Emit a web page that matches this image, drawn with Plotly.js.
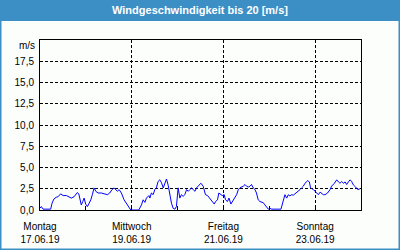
<!DOCTYPE html>
<html>
<head>
<meta charset="utf-8">
<script src="https://cdn.plot.ly/plotly-3.0.1.min.js"></script>
<style>html,body{margin:0;padding:0;background:#fcfefc;}#chart{width:400px;height:250px;}</style>
</head>
<body>
<div id="chart"></div>
<script>
// hours since 17.06.19 00:00
const hours = [0,0.7,1.6,5.6,6.3,7.3,8.5,9.4,10.8,12.1,13.8,15.6,16.4,17.8,18.7,19.5,20.3,21.0,21.6,22.4,23.1,23.9,24.8,25.5,26.6,27.4,28.3,29.2,30.4,32.1,33.9,35.3,36.5,37.7,38.8,39.7,40.5,41.4,42.6,44.0,45.7,47.5,51.7,53.1,54.0,54.9,55.7,57.0,57.5,58.3,59.2,60.1,60.9,61.8,62.7,63.6,64.5,65.4,66.2,67.1,68.0,68.8,69.7,70.6,71.4,71.9,72.3,73.2,74.0,74.9,75.8,76.7,77.6,78.4,79.3,80.2,81.1,81.9,82.8,84.2,85.4,86.6,87.7,88.9,90.1,91.2,91.9,92.9,93.6,94.7,95.4,96.4,97.1,98.1,98.9,99.9,101.1,102.0,102.9,103.8,104.6,106.4,107.3,108.1,109.0,109.9,110.7,111.6,112.5,113.3,114.2,115.1,116.0,116.9,117.7,118.6,119.5,120.4,121.2,126.1,127.3,128.2,129.1,130.0,130.8,131.7,132.6,133.5,134.3,135.2,136.1,136.9,137.8,138.7,140.1,141.0,141.6,143.1,143.9,144.8,145.7,146.6,147.4,148.3,149.2,150.5,151.8,152.6,154.1,155.3,156.2,157.0,157.9,158.8,159.7,160.5,161.4,162.3,163.1,164.0,165.2,166.3,167.5];
const speed = [0.23,0.4,0.1,0.1,0.8,1.3,1.5,1.55,1.9,1.7,1.7,1.5,1.4,1.55,1.9,2.05,1.9,1.2,0.6,1.0,1.4,0.7,0.4,0.7,1.2,1.8,2.6,2.2,2.0,2.0,1.9,1.8,2.0,2.4,2.6,2.4,2.2,2.4,2.0,1.2,0.6,0,0,0.6,1.2,0.9,1.4,1.7,1.4,2.0,1.8,2.4,2.6,3.35,3.55,3.2,2.6,3.15,3.65,2.9,1.8,0.8,0.2,0.1,0.4,1.4,2.6,1.4,1.8,1.6,1.8,2.4,2.2,2.4,2.6,2.4,2.2,2.6,2.8,3.15,2.8,1.8,1.7,1.4,1.0,0.7,1.0,1.2,2.0,1.8,1.7,1.8,1.2,1.0,1.4,0.7,1.1,1.4,1.8,2.4,2.6,2.8,3.0,2.8,2.7,2.8,3.0,2.6,2.4,2.0,1.2,1.0,0.95,0.85,0.6,0.4,0.1,0.2,0.1,0.1,1.2,1.8,1.4,1.8,1.65,1.8,1.75,1.9,2.0,2.2,2.4,2.6,2.8,3.15,3.45,3.3,2.6,2.4,2.2,2.0,1.8,2.1,2.0,1.8,1.8,2.0,2.4,2.8,3.15,3.55,3.3,3.15,3.35,3.15,3.3,3.0,3.3,3.55,3.35,2.95,2.7,2.4,2.5];

const tickDates = ['2019-06-17','2019-06-19','2019-06-21','2019-06-23'];
const tickDays = ['Montag','Mittwoch','Freitag','Sonntag'];
const tickDateLabels = ['17.06.19','19.06.19','21.06.19','23.06.19'];
const yTicks = [0,2.5,5,7.5,10,12.5,15,17.5];
const yTickLabels = ['0,0','2,5','5,0','7,5','10,0','12,5','15,0','17,5'];
const titleText = 'Windgeschwindigkeit bis 20 [m/s]';
const unitText = 'm/s';

const start = Date.UTC(2019,5,17);
function toTime(h){
  return new Date(start + h*3600000).toISOString().replace('T',' ').slice(0,19);
}
const xs = hours.map(toTime);

const W=400,H=250,ML=40,MR=39,MT=40,MB=40;
const PW=W-ML-MR, PH=H-MT-MB;
const px = x => (x-ML)/PW;
const py = y => (H-MB-y)/PH;
const blue = '#3c8fc5';
const font = 'Liberation Sans, Arial, sans-serif';

const trace = {x: xs, y: speed, type:'scatter', mode:'lines',
  line:{color:'#0000ff', width:1}, hoverinfo:'skip'};

const layout = {
  width:W, height:H,
  margin:{l:ML, r:MR, t:MT, b:MB, pad:0},
  paper_bgcolor:'#fcfefc', plot_bgcolor:'#fcfefc',
  showlegend:false,
  font:{family:font, size:10, color:'#000'},
  title:{text:'<b>'+titleText+'</b>', x:0.5, xanchor:'center', xref:'container',
    y:1-10/H, yanchor:'middle', yref:'container', font:{family:font, size:11, color:'#ffffff'}},
  xaxis:{type:'date', range:['2019-06-17 00:00','2019-06-24 00:00'],
    tickvals:tickDates, ticktext:tickDays.map((d,i)=>d+'<br>'+tickDateLabels[i]),
    showgrid:true, gridcolor:'#000', griddash:'3px,2px', gridwidth:1,
    showline:true, linecolor:'#000', linewidth:1, mirror:true,
    ticks:'inside', ticklen:4, tickcolor:'#000',
    tickfont:{family:font, size:10, color:'#000'},
    ticklabelstandoff:7,
    minor:{dtick:86400000, ticks:'inside', ticklen:4, tickcolor:'#000', showgrid:false},
    zeroline:false, fixedrange:true},
  yaxis:{range:[0,20], tickvals:yTicks, ticktext:yTickLabels,
    showgrid:true, gridcolor:'#000', griddash:'3px,2px', gridwidth:1,
    showline:true, linecolor:'#000', linewidth:1, mirror:true,
    ticks:'', tickfont:{family:font, size:10, color:'#000'},
    ticklabelstandoff:3, zeroline:false, fixedrange:true},
  shapes:[
    {type:'rect', xref:'paper', yref:'paper', x0:px(-2), x1:px(402), y0:py(21), y1:py(-2),
      fillcolor:blue, line:{width:0}, layer:'below'},
    {type:'rect', xref:'paper', yref:'paper', x0:px(0.75), x1:px(399.25), y0:py(249.25), y1:py(10),
      fillcolor:'rgba(0,0,0,0)', line:{color:blue, width:1.5}, layer:'below'}
  ],
  annotations:[
    {text:unitText, xref:'paper', yref:'paper', x:px(37), y:py(45), xanchor:'right', yanchor:'middle',
      showarrow:false, font:{family:font, size:10, color:'#000'}}
  ]
};

Plotly.newPlot('chart', [trace], layout, {staticPlot:true, displayModeBar:false});
</script>
</body>
</html>
